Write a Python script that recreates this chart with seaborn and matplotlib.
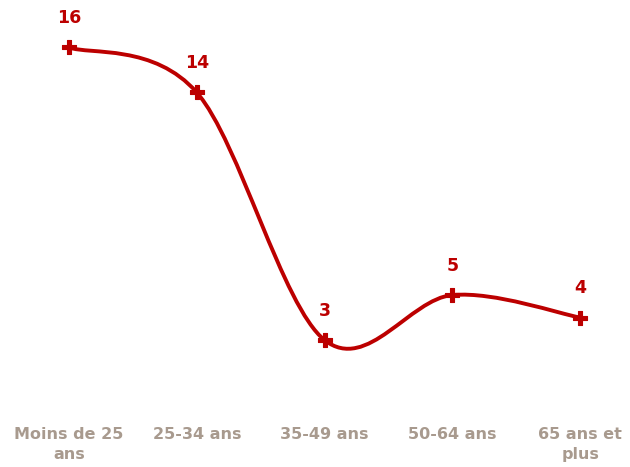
import numpy as np
import pandas as pd
import matplotlib
matplotlib.use("Agg")
import matplotlib.pyplot as plt
from matplotlib.path import Path
from matplotlib.patches import PathPatch
import seaborn as sns

categories = ["Moins de 25\nans", "25-34 ans", "35-49 ans", "50-64 ans", "65 ans et\nplus"]
values = [16, 14, 3, 5, 4]

red = "#BC0000"
label_grey = "#A89A8E"

sns.set_theme(style="white")
plt.rcParams["font.family"] = ["DejaVu Sans"]

df = pd.DataFrame({"pos": range(len(categories)), "value": values})

fig = plt.figure(figsize=(6.3, 4.67), dpi=100)
ax = fig.add_axes([0, 0, 1, 1])

# smoothed line like the spreadsheet "smooth line" option (Catmull-Rom as bezier)
x = df["pos"].to_numpy(dtype=float)
y = df["value"].to_numpy(dtype=float)
verts = [(x[0], y[0])]
codes = [Path.MOVETO]
n = len(x)
for i in range(n - 1):
    x0, y0 = (x[i - 1], y[i - 1]) if i > 0 else (x[i], y[i])
    x3, y3 = (x[i + 2], y[i + 2]) if i + 2 < n else (x[i + 1], y[i + 1])
    c1 = (x[i] + (x[i + 1] - x0) / 6, y[i] + (y[i + 1] - y0) / 6)
    c2 = (x[i + 1] - (x3 - x[i]) / 6, y[i + 1] - (y3 - y[i]) / 6)
    verts += [c1, c2, (x[i + 1], y[i + 1])]
    codes += [Path.CURVE4] * 3
ax.add_patch(PathPatch(Path(verts, codes), facecolor="none", edgecolor=red,
                       lw=2.8, capstyle="round", joinstyle="round", zorder=2))

sns.scatterplot(data=df, x="pos", y="value", marker="P", s=100, color=red,
                edgecolor=red, linewidth=0.8, ax=ax, zorder=3, legend=False)

for px, py in zip(df["pos"], df["value"]):
    ax.annotate(str(py), (px, py), xytext=(0, 21), textcoords="offset points",
                ha="center", va="center", color=red, fontsize=12.5, fontweight="bold")

for px, lab in zip(df["pos"], categories):
    ax.text(px, -0.86, lab, ha="center", va="top", color=label_grey,
            fontsize=11.5, fontweight="bold", linespacing=1.4)

ax.set_xlim(-0.54, 4.39)
ax.set_ylim(-2.64, 18.11)
ax.set_xticks([])
ax.set_yticks([])
ax.set_xlabel("")
ax.set_ylabel("")
sns.despine(ax=ax, left=True, bottom=True)

fig.savefig("out.png", dpi=100)
